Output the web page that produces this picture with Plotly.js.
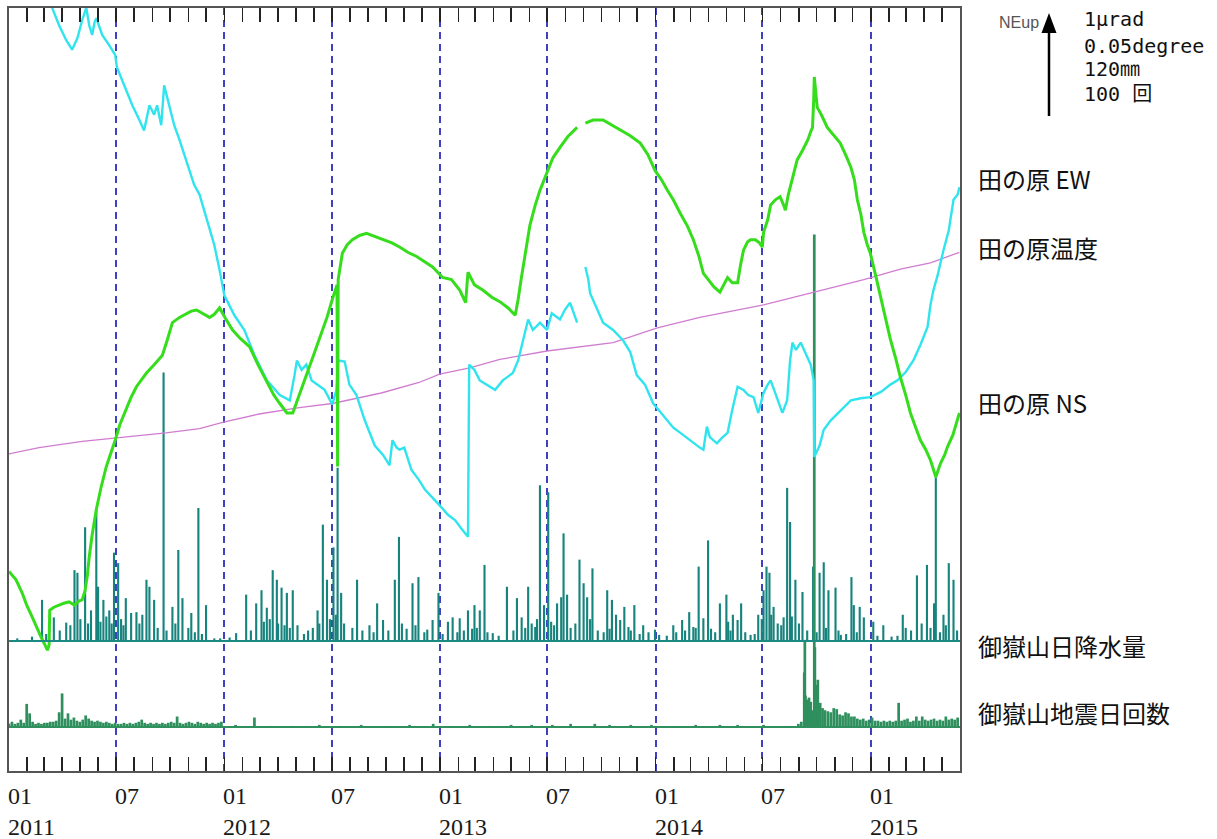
<!DOCTYPE html>
<html>
<head>
<meta charset="utf-8">
<script src="https://cdn.plot.ly/plotly-3.0.1.min.js"></script>
<style>
  html, body { margin: 0; padding: 0; background: #fff; }
  #chart { width: 1217px; height: 839px; }
</style>
</head>
<body>
<div id="chart"></div>
<script>
// 御嶽山 田の原観測点：傾斜計2成分・温度、日降水量、地震日回数（2011年1月〜2015年5月）

// 田の原 EW 傾斜 [日付, μrad]（任意の基準からの相対値、上が北東上がり）
const tiltEW = [
  ['2011-01-01',7.91],['2011-02-21',7.53],['2011-03-15',7.27],['2011-03-27',7.10],['2011-04-08',6.96],
  ['2011-04-18',6.87],['2011-04-27',6.98],['2011-05-05',7.15],['2011-05-12',7.27],['2011-05-17',7.10],
  ['2011-05-22',7.01],['2011-05-26',7.13],['2011-05-29',7.17],['2011-06-08',7.01],['2011-06-20',6.91],
  ['2011-06-30',6.82],['2011-07-03',6.70],['2011-07-15',6.53],['2011-07-29',6.34],['2011-08-10',6.20],
  ['2011-08-18',6.10],['2011-08-27',6.34],['2011-09-04',6.25],['2011-09-09',6.34],['2011-09-16',6.15],
  ['2011-09-21',6.53],['2011-09-30',6.34],['2011-10-08',6.15],['2011-10-17',6.01],['2011-10-25',5.87],
  ['2011-11-03',5.72],['2011-11-11',5.58],['2011-11-20',5.49],['2011-11-28',5.34],['2011-12-07',5.17],
  ['2011-12-15',5.01],['2011-12-24',4.77],['2012-01-01',4.53],['2012-01-18',4.34],['2012-02-04',4.20],
  ['2012-02-21',3.96],['2012-03-13',3.72],['2012-04-04',3.58],['2012-04-21',3.53],['2012-04-29',3.77],
  ['2012-05-03',3.91],['2012-05-11',3.82],['2012-05-19',3.87],['2012-05-28',3.72],['2012-06-07',3.68],
  ['2012-06-19',3.63],['2012-07-02',3.49],['2012-07-09',3.63],['2012-07-12',3.91],['2012-07-23',3.90],
  ['2012-07-31',3.68],['2012-08-12',3.58],['2012-08-26',3.34],['2012-09-12',3.10],['2012-09-26',3.01],
  ['2012-10-07',2.91],['2012-10-12',3.15],['2012-10-19',3.08],['2012-10-24',3.06],['2012-11-01',3.08],
  ['2012-11-13',2.87],['2012-11-26',2.77],['2012-12-06',2.68],['2012-12-18',2.61],['2012-12-31',2.53],
  ['2013-01-14',2.44],['2013-01-26',2.39],['2013-02-07',2.30],['2013-02-17',2.23],['2013-02-19',3.87],
  ['2013-02-28',3.82],['2013-03-09',3.72],['2013-03-21',3.68],['2013-04-04',3.63],['2013-04-17',3.72],
  ['2013-05-04',3.79],['2013-05-13',3.91],['2013-05-21',4.10],['2013-05-30',4.30],['2013-06-07',4.20],
  ['2013-06-19',4.27],['2013-07-01',4.20],['2013-07-09',4.36],['2013-07-23',4.30],['2013-07-31',4.39],
  ['2013-08-09',4.46],['2013-08-21',4.27],['2013-08-28',null],
  ['2013-09-04',4.80],['2013-09-09',4.68],['2013-09-12',4.55],['2013-09-24',4.39],['2013-10-04',4.27],
  ['2013-10-21',4.20],['2013-11-07',4.10],['2013-11-19',3.99],['2013-11-30',3.77],['2013-12-14',3.68],
  ['2013-12-28',3.50],['2014-01-09',3.42],['2014-01-21',3.34],['2014-01-31',3.27],['2014-02-12',3.22],
  ['2014-02-24',3.17],['2014-03-06',3.12],['2014-03-17',3.08],['2014-03-23',3.06],['2014-03-29',3.28],
  ['2014-04-03',3.18],['2014-04-15',3.12],['2014-04-23',3.17],['2014-05-03',3.22],['2014-05-11',3.44],
  ['2014-05-20',3.66],['2014-05-30',3.63],['2014-06-07',3.58],['2014-06-16',3.56],['2014-06-24',3.41],
  ['2014-07-03',3.60],['2014-07-10',3.68],['2014-07-15',3.72],['2014-07-23',3.60],['2014-08-04',3.41],
  ['2014-08-12',3.53],['2014-08-17',3.91],['2014-08-21',4.08],['2014-08-27',4.01],['2014-09-04',4.08],
  ['2014-09-12',3.98],['2014-09-21',3.87],['2014-09-26',3.72],['2014-09-27',2.99],['2014-10-06',3.10],
  ['2014-10-13',3.25],['2014-10-25',3.34],['2014-11-06',3.41],['2014-11-16',3.46],['2014-11-28',3.53],
  ['2014-12-15',3.55],['2014-12-31',3.56],['2015-01-18',3.61],['2015-02-03',3.68],['2015-02-15',3.72],
  ['2015-03-01',3.80],['2015-03-14',3.91],['2015-03-26',4.06],['2015-04-07',4.23],['2015-04-12',4.44],
  ['2015-04-17',4.58],['2015-04-24',4.72],['2015-05-04',4.96],['2015-05-13',5.15],['2015-05-21',5.44],
  ['2015-05-28',5.49],['2015-05-31',5.56]
];

// 田の原 NS 傾斜 [日付, μrad]
const tiltNS = [
  ['2011-01-01',1.90],['2011-01-13',1.82],['2011-01-23',1.70],['2011-01-31',1.58],['2011-02-09',1.47],
  ['2011-02-17',1.36],['2011-02-24',1.28],['2011-03-03',1.20],['2011-03-07',1.15],['2011-03-10',1.20],
  ['2011-03-11',1.53],['2011-03-18',1.56],['2011-03-27',1.58],['2011-04-05',1.60],['2011-04-13',1.61],
  ['2011-04-22',1.58],['2011-04-30',1.62],['2011-05-05',1.63],['2011-05-10',1.72],['2011-05-14',1.87],
  ['2011-05-17',2.04],['2011-05-22',2.25],['2011-05-29',2.49],['2011-06-06',2.70],['2011-06-15',2.90],
  ['2011-06-22',3.01],['2011-06-30',3.15],['2011-07-08',3.30],['2011-07-18',3.44],['2011-07-27',3.56],
  ['2011-08-05',3.66],['2011-08-13',3.72],['2011-08-22',3.79],['2011-09-04',3.87],['2011-09-18',3.96],
  ['2011-09-26',4.10],['2011-10-05',4.27],['2011-10-17',4.32],['2011-10-29',4.36],['2011-11-06',4.38],
  ['2011-11-15',4.39],['2011-11-25',4.36],['2011-12-07',4.32],['2011-12-15',4.35],['2011-12-24',4.41],
  ['2012-01-03',4.31],['2012-01-15',4.20],['2012-01-28',4.12],['2012-02-13',4.04],['2012-02-27',3.87],
  ['2012-03-13',3.70],['2012-03-25',3.58],['2012-04-04',3.50],['2012-04-16',3.41],['2012-04-26',3.41],
  ['2012-05-04',3.53],['2012-05-13',3.66],['2012-05-21',3.80],['2012-05-30',3.94],['2012-06-11',4.13],
  ['2012-06-23',4.32],['2012-07-02',4.49],['2012-07-10',4.63],['2012-07-11',2.90],['2012-07-12',4.68],
  ['2012-07-19',4.93],['2012-07-27',5.01],['2012-08-05',5.06],['2012-08-17',5.10],['2012-08-29',5.12],
  ['2012-09-12',5.09],['2012-09-26',5.06],['2012-10-11',5.03],['2012-10-24',4.99],['2012-11-07',4.94],
  ['2012-11-22',4.90],['2012-12-06',4.85],['2012-12-19',4.80],['2013-01-05',4.70],['2013-01-20',4.68],
  ['2013-02-03',4.58],['2013-02-13',4.46],['2013-02-17',4.75],['2013-02-28',4.63],['2013-03-14',4.58],
  ['2013-03-30',4.51],['2013-04-12',4.47],['2013-04-26',4.41],['2013-05-08',4.34],['2013-05-13',4.49],
  ['2013-05-18',4.68],['2013-05-25',4.91],['2013-06-02',5.20],['2013-06-11',5.39],['2013-06-19',5.53],
  ['2013-07-01',5.70],['2013-07-11',5.84],['2013-07-23',5.94],['2013-08-05',6.04],['2013-08-21',6.13],
  ['2013-08-28',null],
  ['2013-09-04',6.17],['2013-09-17',6.20],['2013-10-04',6.20],['2013-10-19',6.15],['2013-11-02',6.10],
  ['2013-11-19',6.05],['2013-12-06',5.98],['2013-12-19',5.87],['2013-12-31',5.72],['2014-01-11',5.63],
  ['2014-01-21',5.53],['2014-01-31',5.44],['2014-02-12',5.31],['2014-02-24',5.19],['2014-03-06',5.06],
  ['2014-03-15',4.91],['2014-03-23',4.74],['2014-03-31',4.68],['2014-04-10',4.61],['2014-04-20',4.56],
  ['2014-04-27',4.63],['2014-05-03',4.70],['2014-05-11',4.65],['2014-05-20',4.65],['2014-05-25',4.82],
  ['2014-05-30',4.96],['2014-06-06',5.04],['2014-06-11',5.06],['2014-06-19',5.06],['2014-06-26',5.03],
  ['2014-07-01',4.99],['2014-07-03',5.13],['2014-07-10',5.25],['2014-07-15',5.39],['2014-07-23',5.44],
  ['2014-07-31',5.47],['2014-08-06',5.39],['2014-08-09',5.34],['2014-08-14',5.49],['2014-08-17',5.56],
  ['2014-08-24',5.70],['2014-08-29',5.82],['2014-09-07',5.91],['2014-09-16',6.01],['2014-09-21',6.09],
  ['2014-09-24',6.13],['2014-09-26',6.39],['2014-09-27',6.61],['2014-10-02',6.32],['2014-10-09',6.25],
  ['2014-10-19',6.13],['2014-10-29',6.06],['2014-11-10',5.98],['2014-11-19',5.87],['2014-11-28',5.75],
  ['2014-12-04',5.63],['2014-12-09',5.44],['2014-12-15',5.30],['2014-12-20',5.13],['2014-12-26',5.01],
  ['2014-12-31',4.93],['2015-01-09',4.72],['2015-01-18',4.49],['2015-01-26',4.30],['2015-02-03',4.11],
  ['2015-02-12',3.93],['2015-02-20',3.75],['2015-03-01',3.58],['2015-03-09',3.41],['2015-03-18',3.27],
  ['2015-03-26',3.15],['2015-04-04',3.06],['2015-04-12',2.96],['2015-04-21',2.80],['2015-04-29',2.93],
  ['2015-05-06',3.01],['2015-05-11',3.09],['2015-05-20',3.20],['2015-05-28',3.34],['2015-05-31',3.41]
];

// 田の原 温度 [日付, ℃]
const temperature = [
  ['2011-01-01',8.451],['2011-02-21',8.454],['2011-05-05',8.457],['2011-07-15',8.459],['2011-09-24',8.461],
  ['2011-11-20',8.463],['2011-12-29',8.466],['2012-02-29',8.470],['2012-05-07',8.473],['2012-07-02',8.475],
  ['2012-09-23',8.480],['2012-11-26',8.485],['2012-12-31',8.489],['2013-02-20',8.492],['2013-04-12',8.496],
  ['2013-07-01',8.500],['2013-08-29',8.502],['2013-10-21',8.504],['2014-01-04',8.511],['2014-03-17',8.516],
  ['2014-07-03',8.522],['2014-09-26',8.528],['2014-12-20',8.534],['2015-02-20',8.539],['2015-04-12',8.542],
  ['2015-05-31',8.547]
];

// 御嶽山 日降水量 [日付, mm]
const rainfall = [
  ['2011-01-15',3],['2011-02-09',5],['2011-02-26',47],['2011-03-05',8],['2011-03-18',27],['2011-03-28',12],
  ['2011-04-08',21],['2011-04-15',18],['2011-04-22',81],['2011-04-27',78],['2011-05-02',25],['2011-05-10',130],
  ['2011-05-15',20],['2011-05-20',35],['2011-05-29',150],['2011-06-01',62],['2011-06-05',22],['2011-06-10',47],
  ['2011-06-15',28],['2011-06-20',35],['2011-06-24',20],['2011-06-28',101],['2011-07-05',89],['2011-07-10',25],
  ['2011-07-14',18],['2011-07-18',49],['2011-07-27',32],['2011-08-05',33],['2011-08-10',20],['2011-08-15',30],
  ['2011-08-22',70],['2011-08-27',62],['2011-09-04',47],['2011-09-10',15],['2011-09-20',307],['2011-09-25',12],
  ['2011-10-05',39],['2011-10-10',20],['2011-10-15',104],['2011-10-22',49],['2011-11-01',15],['2011-11-06',32],
  ['2011-11-12',10],['2011-11-18',152],['2011-11-24',8],['2011-12-01',41],['2011-12-15',3],['2011-12-25',3],
  ['2012-01-10',4],['2012-01-21',9],['2012-02-07',53],['2012-02-15',12],['2012-02-24',43],['2012-03-04',58],
  ['2012-03-08',22],['2012-03-13',38],['2012-03-18',25],['2012-03-23',81],['2012-03-30',70],['2012-04-01',20],
  ['2012-04-07',61],['2012-04-12',18],['2012-04-16',55],['2012-04-21',15],['2012-04-26',58],['2012-05-04',18],
  ['2012-05-15',8],['2012-05-22',12],['2012-05-30',15],['2012-06-07',35],['2012-06-10',20],['2012-06-16',133],
  ['2012-06-23',70],['2012-06-28',25],['2012-07-04',107],['2012-07-08',30],['2012-07-11',198],['2012-07-17',55],
  ['2012-07-22',20],['2012-08-05',15],['2012-08-13',70],['2012-08-22',12],['2012-09-03',18],['2012-09-10',10],
  ['2012-09-16',43],['2012-09-26',24],['2012-10-05',12],['2012-10-16',70],['2012-10-23',119],['2012-10-28',20],
  ['2012-11-05',14],['2012-11-15',66],['2012-11-20',18],['2012-11-25',73],['2012-12-05',10],['2012-12-10',13],
  ['2012-12-19',24],['2012-12-29',55],['2013-01-05',8],['2013-01-14',22],['2013-01-22',27],['2013-01-30',10],
  ['2013-02-03',26],['2013-02-10',12],['2013-02-17',35],['2013-02-24',14],['2013-02-28',41],['2013-03-04',15],
  ['2013-03-09',35],['2013-03-17',87],['2013-03-22',10],['2013-03-31',9],['2013-04-10',6],['2013-04-24',62],
  ['2013-05-05',12],['2013-05-11',49],['2013-05-19',27],['2013-05-25',15],['2013-05-30',62],['2013-06-05',20],
  ['2013-06-11',16],['2013-06-14',25],['2013-06-19',178],['2013-06-26',41],['2013-07-03',170],['2013-07-08',22],
  ['2013-07-13',18],['2013-07-18',43],['2013-07-25',50],['2013-07-29',123],['2013-08-04',53],['2013-08-10',15],
  ['2013-08-18',20],['2013-08-25',93],['2013-09-01',66],['2013-09-07',50],['2013-09-12',25],['2013-09-16',83],
  ['2013-09-25',12],['2013-10-05',10],['2013-10-11',58],['2013-10-15',14],['2013-10-19',47],['2013-10-26',30],
  ['2013-11-02',24],['2013-11-09',39],['2013-11-16',16],['2013-11-20',12],['2013-11-26',41],['2013-12-05',8],
  ['2013-12-11',18],['2013-12-20',10],['2013-12-31',13],['2014-01-07',7],['2014-01-20',6],['2014-01-31',18],
  ['2014-02-05',10],['2014-02-15',24],['2014-02-20',12],['2014-02-27',33],['2014-03-06',16],['2014-03-10',15],
  ['2014-03-15',85],['2014-03-23',26],['2014-03-31',115],['2014-04-05',14],['2014-04-12',10],['2014-04-20',43],
  ['2014-05-01',53],['2014-05-04',22],['2014-05-08',12],['2014-05-12',30],['2014-05-20',24],['2014-05-26',43],
  ['2014-06-02',10],['2014-06-11',7],['2014-06-18',8],['2014-06-24',30],['2014-06-30',25],['2014-07-03',58],
  ['2014-07-08',85],['2014-07-13',78],['2014-07-16',30],['2014-07-20',39],['2014-07-27',20],['2014-08-02',18],
  ['2014-08-06',27],['2014-08-12',175],['2014-08-17',136],['2014-08-20',28],['2014-08-26',70],['2014-09-01',20],
  ['2014-09-07',56],['2014-09-15',12],['2014-09-25',85],['2014-10-01',10],['2014-10-06',78],['2014-10-13',90],
  ['2014-10-17',15],['2014-10-21',58],['2014-11-02',61],['2014-11-07',12],['2014-11-11',7],['2014-11-20',8],
  ['2014-11-29',73],['2014-12-03',41],['2014-12-08',10],['2014-12-13',39],['2014-12-20',27],['2015-01-05',22],
  ['2015-01-12',6],['2015-01-22',18],['2015-02-05',5],['2015-02-15',6],['2015-02-24',30],['2015-03-01',15],
  ['2015-03-10',12],['2015-03-20',75],['2015-03-28',20],['2015-04-06',87],['2015-04-12',15],['2015-04-18',43],
  ['2015-04-21',187],['2015-04-28',10],['2015-05-04',30],['2015-05-08',18],['2015-05-13',89],['2015-05-21',70],
  ['2015-05-27',12]
];

// 御嶽山 地震日回数：2011年は5日ごとの値
const quakeStart2011 = '2011-01-01';
const quakeCounts2011 = [
  3,5,3,4,7,4,22,13,5,3,4,3,4,4,5,5,6,14,32,8,13,7,9,6,5,7,11,8,6,5,6,5,4,5,4,3,4,
  3,3,4,3,4,3,4,5,7,4,3,4,3,4,3,4,3,4,5,4,10,4,3,4,5,4,3,5,4,3,4,3,4,3,4,5
];
// 2012年〜2014年夏、2014年9〜10月の個別日 [日付, 回]
const quakeDays = [
  ['2012-01-20',2],['2012-02-21',9],['2012-03-20',1],['2012-04-25',1],['2012-06-10',2],['2012-07-15',1],
  ['2012-08-20',2],['2012-10-01',1],['2012-11-10',2],['2012-12-20',3],['2013-01-15',1],['2013-02-20',2],
  ['2013-03-25',1],['2013-05-01',2],['2013-06-05',2],['2013-07-10',2],['2013-08-10',3],['2013-09-20',3],
  ['2013-10-15',2],['2013-11-20',2],['2013-12-25',2],['2014-02-01',1],['2014-03-10',2],['2014-04-20',2],
  ['2014-05-20',2],['2014-07-03',2],['2014-08-10',1],['2014-08-31',3],['2014-09-05',5],['2014-09-10',52],
  ['2014-09-11',83],['2014-09-12',30],['2014-09-15',26],['2014-09-18',28],['2014-09-21',24],['2014-09-24',16],
  ['2014-09-27',469],['2014-09-28',76],['2014-09-30',40],['2014-10-03',45],['2014-10-07',23],['2014-10-11',18],
  ['2014-10-15',16]
];
// 2014年10月20日以降は5日ごとの値
const quakeStart2014 = '2014-10-20';
const quakeCounts2014 = [
  15,14,18,17,12,11,14,13,10,10,8,7,8,6,7,9,6,6,5,6,5,6,5,6,23,6,7,8,5,6,10,6,10,7,6,7,8,6,7,6,10,7,8,7,9
];

// 目盛りラベル（半年ごと）
const tickDates  = ['2011-01-01','2011-07-01','2012-01-01','2012-07-01','2013-01-01','2013-07-01','2014-01-01','2014-07-01','2015-01-01'];
const monthLabels = ['01','07','01','07','01','07','01','07','01'];
const yearLabels  = ['2011','','2012','','2013','','2014','','2015'];

// 右側の系列名
const seriesNames = ['田の原 EW','田の原温度','田の原 NS','御嶽山日降水量','御嶽山地震日回数'];
// スケール表示
const scaleLines = ['1μrad','0.05degree','120㎜','100 回'];

// ---------------------------------------------------------------
const DAY = 864e5;
function addDays(iso, n) {
  const d = new Date(iso + 'T00:00:00Z');
  d.setUTCDate(d.getUTCDate() + n);
  return d.toISOString().slice(0, 10);
}
const col = (rows, i) => rows.map(r => r[i]);

const quakeX = [], quakeY = [];
quakeCounts2011.forEach((v, i) => { quakeX.push(addDays(quakeStart2011, i * 5)); quakeY.push(v); });
quakeDays.forEach(r => { quakeX.push(r[0]); quakeY.push(r[1]); });
quakeCounts2014.forEach((v, i) => { quakeX.push(addDays(quakeStart2014, i * 5)); quakeY.push(v); });

// Plot-area geometry (pixels) used to give each quantity its scale
const W = 1217, H = 839;
const M = { l: 9, r: 257, t: 8, b: 68 };
const plotH = H - M.t - M.b;            // 763
const PX_PER_UNIT = 105;                // length of the scale arrow
// rain: 120 mm per arrow, baseline 130 px above the bottom frame
const rainPerPx = 120 / PX_PER_UNIT;
const rainLo = -130 * rainPerPx;
// quakes: 100 per arrow, baseline 44 px above the bottom frame
const quakePerPx = 100 / PX_PER_UNIT;
const quakeLo = -44 * quakePerPx;
// temperature: 0.05 degree per arrow
const tempLo = 8.30;
// tilt: 1 μrad per arrow
const tiltLo = 0;

const traces = [
  {
    type: 'bar', name: '御嶽山日降水量', x: col(rainfall, 0), y: col(rainfall, 1),
    xaxis: 'x', yaxis: 'y', width: 3.6 * DAY,
    marker: { color: '#16837d', line: { width: 0 } }, hoverinfo: 'skip'
  },
  {
    type: 'bar', name: '御嶽山地震日回数', x: quakeX, y: quakeY,
    xaxis: 'x', yaxis: 'y2', width: 4.6 * DAY,
    marker: { color: '#2f8f5d', line: { width: 0 } }, hoverinfo: 'skip'
  },
  {
    type: 'scatter', mode: 'lines', name: '田の原温度',
    x: col(temperature, 0), y: col(temperature, 1), xaxis: 'x', yaxis: 'y3',
    line: { color: '#d07dd0', width: 1.3 }, hoverinfo: 'skip'
  },
  {
    type: 'scatter', mode: 'lines', name: '田の原 EW',
    x: col(tiltEW, 0), y: col(tiltEW, 1), xaxis: 'x', yaxis: 'y4', connectgaps: false,
    line: { color: '#30e4ee', width: 2.4 }, hoverinfo: 'skip'
  },
  {
    type: 'scatter', mode: 'lines', name: '田の原 NS',
    x: col(tiltNS, 0), y: col(tiltNS, 1), xaxis: 'x', yaxis: 'y4', connectgaps: false,
    line: { color: '#36dd1c', width: 3 }, hoverinfo: 'skip'
  }
];

// paper-coordinate helpers for items placed outside the plot area
const plotW = W - M.l - M.r;
const px2x = px => (px - M.l) / plotW;
const py2y = py => (H - M.b - py) / plotH;

const annotations = [];
// month / year labels under each half-year tick, left-aligned on the tick
tickDates.forEach((d, i) => {
  const txt = yearLabels[i] ? monthLabels[i] + '<br>' + yearLabels[i] : monthLabels[i];
  annotations.push({
    x: d, xref: 'x', y: py2y(781), yref: 'paper', xanchor: 'left', yanchor: 'top',
    text: txt, align: 'left', showarrow: false, xshift: -3,
    font: { family: 'Liberation Serif, serif', size: 24, color: '#1a1a1a' }
  });
});

const labelRows = [179, 247, 402, 645, 712];
seriesNames.forEach((t, i) => {
  annotations.push({
    x: px2x(976), xref: 'paper', y: py2y(labelRows[i]), yref: 'paper',
    xanchor: 'left', yanchor: 'middle', text: t, showarrow: false,
    font: { family: 'Noto Sans CJK JP, sans-serif', size: 24, color: '#111' }
  });
});

const scaleRows = [19, 46, 69, 94];
scaleLines.forEach((t, i) => {
  annotations.push({
    x: px2x(1082), xref: 'paper', y: py2y(scaleRows[i]), yref: 'paper',
    xanchor: 'left', yanchor: 'middle', text: t, showarrow: false,
    font: { family: 'DejaVu Sans Mono, Noto Sans CJK JP, monospace', size: 20, color: '#111' }
  });
});
annotations.push({
  x: px2x(1041), xref: 'paper', y: py2y(22), yref: 'paper',
  xanchor: 'right', yanchor: 'middle', text: 'NEup', showarrow: false,
  font: { family: 'Liberation Sans, Arial, sans-serif', size: 16, color: '#555' }
});

const shapes = [
  // zero lines of the rain and quake panels
  { type: 'line', xref: 'paper', x0: 0, x1: 1, yref: 'y', y0: 0, y1: 0,
    line: { color: '#1b8a82', width: 2 } },
  { type: 'line', xref: 'paper', x0: 0, x1: 1, yref: 'y2', y0: 0, y1: 0,
    line: { color: '#2f8f5d', width: 2 } },
  // scale arrow
  { type: 'line', xref: 'paper', yref: 'paper',
    x0: px2x(1049), x1: px2x(1049), y0: py2y(28), y1: py2y(116),
    line: { color: '#000', width: 2.5 } },
  { type: 'path', xref: 'paper', yref: 'paper',
    path: `M ${px2x(1049)} ${py2y(13)} L ${px2x(1041.5)} ${py2y(33)} L ${px2x(1056.5)} ${py2y(33)} Z`,
    fillcolor: '#000', line: { width: 0 } }
];

const hiddenY = { visible: false, fixedrange: true };

const layout = {
  width: W, height: H,
  margin: M,
  paper_bgcolor: '#fff', plot_bgcolor: '#fff',
  showlegend: false,
  barmode: 'overlay',
  xaxis: {
    type: 'date',
    range: ['2011-01-01', '2015-06-01'],
    tick0: '2011-01-01', dtick: 'M6',
    ticks: 'inside', ticklen: 14, tickwidth: 1.6, tickcolor: '#222',
    showticklabels: false,
    showgrid: true, gridcolor: '#4040c4', gridwidth: 2, griddash: '7px,5px',
    minor: { dtick: 'M1', tick0: '2011-01-01', ticks: 'inside', ticklen: 14, tickwidth: 1.6, tickcolor: '#222', showgrid: false },
    showline: true, linecolor: '#555', linewidth: 2, mirror: 'ticks',
    zeroline: false, fixedrange: true
  },
  yaxis: {
    range: [rainLo, rainLo + plotH * rainPerPx],
    showline: true, linecolor: '#555', linewidth: 2, mirror: true,
    ticks: '', showticklabels: false, showgrid: false, zeroline: false, fixedrange: true
  },
  yaxis2: Object.assign({ overlaying: 'y', range: [quakeLo, quakeLo + plotH * quakePerPx] }, hiddenY),
  yaxis3: Object.assign({ overlaying: 'y', range: [tempLo, tempLo + plotH * 0.05 / PX_PER_UNIT] }, hiddenY),
  yaxis4: Object.assign({ overlaying: 'y', range: [tiltLo, tiltLo + plotH / PX_PER_UNIT] }, hiddenY),
  annotations: annotations,
  shapes: shapes
};

Plotly.newPlot('chart', traces, layout, { displayModeBar: false, staticPlot: true });
</script>
</body>
</html>
